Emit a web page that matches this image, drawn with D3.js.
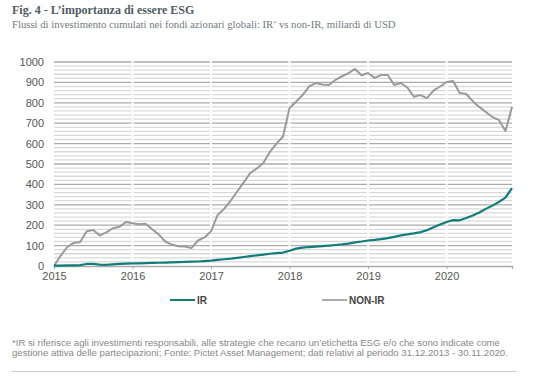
<!DOCTYPE html>
<html>
<head>
<meta charset="utf-8">
<script src="https://cdn.jsdelivr.net/npm/d3@7"></script>
<style>
body{margin:0;background:#fff;}
svg text{font-family:"Liberation Sans",Arial,sans-serif;}
svg text.serif{font-family:"Liberation Serif","Times New Roman",serif;}
</style>
</head>
<body>
<div id="chart"></div>
<script>
// monthly points, Dec 2014 .. Nov 2020
var years = [2015,2016,2017,2018,2019,2020];
var yTicks = [0,100,200,300,400,500,600,700,800,900,1000];
var nonIR = [0,50,92,113,118,170,176,150,165,185,192,216,
  210,205,207,180,155,120,105,97,95,88,125,140,
  170,250,280,320,365,410,456,478,505,560,600,635,
  775,805,838,880,897,890,887,912,930,945,966,935,
  946,922,936,936,887,897,875,830,838,823,860,880,
  902,907,848,843,808,780,755,730,716,662,780];
var ir = [2,2,3,3,4,10,10,7,6,8,10,12,
  13,13,14,15,16,17,18,19,20,21,22,24,
  26,30,33,36,40,44,48,52,56,60,63,66,
  75,85,90,93,95,97,100,103,106,110,116,120,
  125,128,132,137,143,150,155,160,166,175,190,203,
  216,225,224,235,248,262,280,296,314,335,382];
var seriesNames = ["IR","NON-IR"];

var w = 546, h = 378;
var margins = {top:62,left:54,right:34,bottom:112};
var svg = d3.select("#chart").append("svg").attr("width",w).attr("height",h);

var x = d3.scaleLinear().domain([2015, 2015+70/12]).range([margins.left, w-margins.right]);
var y = d3.scaleLinear().domain([0,1000]).range([h-margins.bottom, margins.top]);

// title
svg.append("text").attr("class","serif").attr("x",12).attr("y",14)
  .attr("font-size",12).attr("font-weight","bold").attr("fill","#4f5d63")
  .text("Fig. 4 - L\u2019importanza di essere ESG");
var sub = svg.append("text").attr("class","serif").attr("x",12).attr("y",28)
  .attr("font-size",10.7).attr("fill","#6f7a7f");
sub.append("tspan").text("Flussi di investimento cumulati nei fondi azionari globali: IR");
sub.append("tspan").attr("dy",-3).attr("font-size",6).text("*");
sub.append("tspan").attr("dy",3).text(" vs non-IR, miliardi di USD");

// grid: minor every 20, major every 100
var minor = d3.range(20,1000,20).filter(function(d){return d%100!=0});
svg.append("g").selectAll("line").data(minor).enter().append("line")
  .attr("x1",x.range()[0]).attr("x2",x.range()[1])
  .attr("y1",function(d){return y(d)}).attr("y2",function(d){return y(d)})
  .attr("stroke","#d9d9d9").attr("stroke-width",1.3);
svg.append("g").selectAll("line").data(yTicks.slice(1)).enter().append("line")
  .attr("x1",x.range()[0]).attr("x2",x.range()[1])
  .attr("y1",function(d){return y(d)}).attr("y2",function(d){return y(d)})
  .attr("stroke","#ababab").attr("stroke-width",1.3);
// white year separators
svg.append("g").selectAll("line").data(years.slice(1)).enter().append("line")
  .attr("x1",function(d){return x(d)}).attr("x2",function(d){return x(d)})
  .attr("y1",y(1000)-2).attr("y2",y(0)-1)
  .attr("stroke","#fff").attr("stroke-width",2);

// axes
var yAxis = d3.axisLeft(y).tickValues(yTicks).tickFormat(d3.format("d")).tickSize(0).tickPadding(10);
svg.append("g").attr("transform","translate("+margins.left+",0)").call(yAxis)
  .call(function(g){g.select(".domain").remove()})
  .selectAll("text").attr("font-size",11).attr("fill","#555");
var xAxis = d3.axisBottom(x).tickValues(years).tickFormat(d3.format("d")).tickSize(3).tickPadding(3);
var xg = svg.append("g").attr("transform","translate(0,"+y(0)+")").call(xAxis);
xg.select(".domain").attr("stroke","#aaa").attr("stroke-width",1.3);
xg.selectAll(".tick line").attr("stroke","#aaa");
xg.selectAll("text").attr("font-size",11).attr("fill","#555");

// lines
var line = d3.line().x(function(d,i){return x(2015+i/12)}).y(function(d){return y(d)});
svg.append("path").datum(nonIR).attr("d",line).attr("fill","none")
  .attr("stroke","#9a9a9a").attr("stroke-width",2).attr("stroke-linejoin","round");
svg.append("path").datum(ir).attr("d",line).attr("fill","none")
  .attr("stroke","#117d78").attr("stroke-width",2.2).attr("stroke-linejoin","round");

// legend
var legColors = ["#117d78","#aaaaaa"];
var legX = [170,322];
var leg = svg.append("g").selectAll("g").data(seriesNames).enter().append("g")
  .attr("transform",function(d,i){return "translate("+legX[i]+",300)"});
leg.append("line").attr("x1",0).attr("x2",25).attr("y1",0).attr("y2",0)
  .attr("stroke",function(d,i){return legColors[i]}).attr("stroke-width",2);
leg.append("text").attr("x",27).attr("y",4).attr("font-size",10).attr("font-weight","bold")
  .attr("fill","#444").text(function(d){return d});

// footnote
var notes = ["*IR si riferisce agli investimenti responsabili, alle strategie che recano un\u2019etichetta ESG e/o che sono indicate come",
  "gestione attiva delle partecipazioni; Fonte: Pictet Asset Management; dati relativi al periodo 31.12.2013 - 30.11.2020."];
svg.append("g").selectAll("text").data(notes).enter().append("text")
  .attr("x",12).attr("y",function(d,i){return 346+i*9.5})
  .attr("font-size",9.6).attr("fill","#888").text(function(d){return d});
svg.append("line").attr("x1",12).attr("x2",516).attr("y1",371.5).attr("y2",371.5)
  .attr("stroke","#ccc").attr("stroke-width",1);
</script>
</body>
</html>
